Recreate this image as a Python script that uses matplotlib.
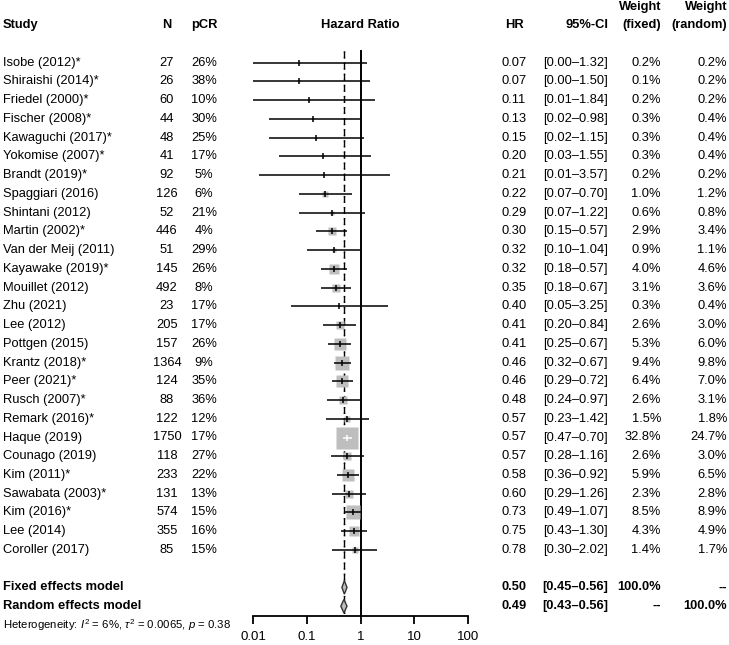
import numpy as np
import matplotlib
matplotlib.use("Agg")
import matplotlib.pyplot as plt
import matplotlib.transforms as mtransforms

plt.rcParams['font.family'] = ['Liberation Sans', 'DejaVu Sans']
plt.rcParams['mathtext.fontset'] = 'custom'
plt.rcParams['mathtext.rm'] = 'Liberation Sans'
plt.rcParams['mathtext.it'] = 'Liberation Sans:italic'

# --- data ---
studies = ["Isobe (2012)*", "Shiraishi (2014)*", "Friedel (2000)*", "Fischer (2008)*",
           "Kawaguchi (2017)*", "Yokomise (2007)*", "Brandt (2019)*", "Spaggiari (2016)",
           "Shintani (2012)", "Martin (2002)*", "Van der Meij (2011)", "Kayawake (2019)*",
           "Mouillet (2012)", "Zhu (2021)", "Lee (2012)", "Pottgen (2015)", "Krantz (2018)*",
           "Peer (2021)*", "Rusch (2007)*", "Remark (2016)*", "Haque (2019)", "Counago (2019)",
           "Kim (2011)*", "Sawabata (2003)*", "Kim (2016)*", "Lee (2014)", "Coroller (2017)"]
n_pat = [27, 26, 60, 44, 48, 41, 92, 126, 52, 446, 51, 145, 492, 23, 205, 157, 1364,
         124, 88, 122, 1750, 118, 233, 131, 574, 355, 85]
pcr = [26, 38, 10, 30, 25, 17, 5, 6, 21, 4, 29, 26, 8, 17, 17, 26, 9, 35, 36, 12, 17,
       27, 22, 13, 15, 16, 15]
hr = [0.07, 0.07, 0.11, 0.13, 0.15, 0.20, 0.21, 0.22, 0.29, 0.30, 0.32, 0.32, 0.35, 0.40,
      0.41, 0.41, 0.46, 0.46, 0.48, 0.57, 0.57, 0.57, 0.58, 0.60, 0.73, 0.75, 0.78]
ci_lo = [0.004, 0.0035, 0.0066, 0.02, 0.02, 0.03, 0.0126, 0.07, 0.07, 0.15, 0.10, 0.18,
         0.18, 0.05, 0.20, 0.25, 0.32, 0.29, 0.24, 0.23, 0.47, 0.28, 0.36, 0.29, 0.49,
         0.43, 0.30]
ci_hi = [1.32, 1.50, 1.84, 0.98, 1.15, 1.55, 3.57, 0.70, 1.22, 0.57, 1.04, 0.57, 0.67,
         3.25, 0.84, 0.67, 0.67, 0.72, 0.97, 1.42, 0.70, 1.16, 0.92, 1.26, 1.07, 1.30, 2.02]
w_fixed = [0.2, 0.1, 0.2, 0.3, 0.3, 0.3, 0.2, 1.0, 0.6, 2.9, 0.9, 4.0, 3.1, 0.3, 2.6,
           5.3, 9.4, 6.4, 2.6, 1.5, 32.8, 2.6, 5.9, 2.3, 8.5, 4.3, 1.4]
w_random = [0.2, 0.2, 0.2, 0.4, 0.4, 0.4, 0.2, 1.2, 0.8, 3.4, 1.1, 4.6, 3.6, 0.4, 3.0,
            6.0, 9.8, 7.0, 3.1, 1.8, 24.7, 3.0, 6.5, 2.8, 8.9, 4.9, 1.7]

models = ["Fixed effects model", "Random effects model"]
pooled_hr = [0.50, 0.49]
pooled_lo = [0.45, 0.43]
pooled_hi = [0.56, 0.56]
pooled_wf = ["100.0%", "--"]
pooled_wr = ["--", "100.0%"]
het_text = r"Heterogeneity: $I^2$ = 6%, $\tau^2$ = 0.0065, $p$ = 0.38"
xticks = [0.01, 0.1, 1, 10, 100]
xticklabels = ["0.01", "0.1", "1", "10", "100"]

W, H = 729, 645
fig = plt.figure(figsize=(W / 100, H / 100), dpi=100)

# plot panel: 0.01 .. 100 spans x = 253..468 px; rows 18.74 px apart, first row at y=62.7
row_h = 18.74
y0 = 62.7
ylim_top, ylim_bot = -2.5, 29.5
ax_top = y0 + ylim_top * row_h
ax_bot = y0 + ylim_bot * row_h
ax = fig.add_axes([253.3 / W, 1 - ax_bot / H, 214.4 / W, (ax_bot - ax_top) / H])
ax.set_xscale('log')
ax.set_xlim(0.01, 100)
ax.set_ylim(ylim_bot, ylim_top)
for s in ['top', 'right', 'left']:
    ax.spines[s].set_visible(False)
ax.spines['bottom'].set_linewidth(1.3)
ax.set_yticks([])
ax.set_xticks(xticks)
ax.set_xticklabels(xticklabels, fontsize=9.5)
ax.minorticks_off()
ax.tick_params(axis='x', length=6, width=1.3, pad=5)
ax.patch.set_alpha(0)

rows = np.arange(len(studies))
px_per_pt = 100 / 72
# square side proportional to sqrt(random weight); Haque ~22.7 px
side_px = 22.7 * np.sqrt(np.array(w_random) / max(w_random))

# reference lines
ax.plot([1, 1], [-0.6, 29.5], color='black', lw=1.4, zorder=1)
ax.plot([pooled_hr[0]] * 2, [-0.6, 29.4], color='black', lw=1.0, ls=(0, (5, 3)), zorder=1)
ax.plot([pooled_hr[1]] * 2, [-0.6, 29.4], color='black', lw=1.0, ls=(0, (1, 3)), zorder=1)

for i in rows:
    ax.plot(hr[i], i, marker='s', ms=side_px[i] / px_per_pt, color='#BEBEBE', mec='none', zorder=2)
    # CI fully inside the box -> draw in white
    half = side_px[i] / 2 / 53.6
    inside = (np.log10(ci_lo[i]) >= np.log10(hr[i]) - half) and (np.log10(ci_hi[i]) <= np.log10(hr[i]) + half)
    col = 'white' if inside else 'black'
    ax.plot([ci_lo[i], ci_hi[i]], [i, i], color=col, lw=1.1, zorder=3, solid_capstyle='butt')
    ax.plot(hr[i], i, marker='|', ms=5, mew=1.1, color=col, zorder=4)

# diamonds
for k in range(2):
    yy = len(studies) + 1 + k
    ax.fill([pooled_lo[k], pooled_hr[k], pooled_hi[k], pooled_hr[k]],
            [yy, yy - 0.36, yy, yy + 0.36], facecolor='#BEBEBE', edgecolor='#333333', lw=1.0, zorder=3)

# text columns (x in figure fraction, y in row units)
tr = mtransforms.blended_transform_factory(fig.transFigure, ax.transData)
fs = 9.3

def put(xpx, y, s, ha='left', bold=False, size=fs):
    ax.text(xpx / W, y, s, transform=tr, ha=ha, va='center', fontsize=size,
            fontweight='bold' if bold else 'normal', clip_on=False)

hy = -2.0
put(3, hy, "Study", bold=True)
put(167, hy, "N", ha='center', bold=True)
put(204, hy, "pCR", ha='center', bold=True)
put(360, hy, "Hazard Ratio", ha='center', bold=True)
put(514, hy, "HR", ha='center', bold=True)
put(608, hy, "95%-CI", ha='right', bold=True)
put(661, hy - 0.95, "Weight", ha='right', bold=True)
put(661, hy, "(fixed)", ha='right', bold=True)
put(727, hy - 0.95, "Weight", ha='right', bold=True)
put(727, hy, "(random)", ha='right', bold=True)

for i in rows:
    put(3, i, studies[i])
    put(167, i, str(n_pat[i]), ha='center')
    put(204, i, f"{pcr[i]}%", ha='center')
    put(514, i, f"{hr[i]:.2f}", ha='center')
    put(608, i, f"[{ci_lo[i]:.2f}\u2013{ci_hi[i]:.2f}]", ha='right')
    put(661, i, f"{w_fixed[i]:.1f}%", ha='right')
    put(727, i, f"{w_random[i]:.1f}%", ha='right')

for k in range(2):
    yy = len(studies) + 1 + k
    put(3, yy, models[k], bold=True)
    put(514, yy, f"{pooled_hr[k]:.2f}", ha='center', bold=True)
    put(608, yy, f"[{pooled_lo[k]:.2f}\u2013{pooled_hi[k]:.2f}]", ha='right', bold=True)
    put(661, yy, pooled_wf[k], ha='right', bold=True)
    put(727, yy, pooled_wr[k], ha='right', bold=True)

put(3, len(studies) + 3, het_text, size=8.2)

fig.savefig("out.png", dpi=100)
